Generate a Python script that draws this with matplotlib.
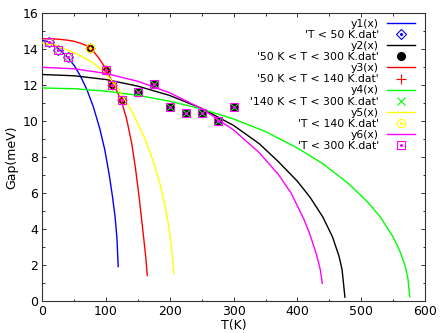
import numpy as np
import matplotlib.pyplot as plt
from matplotlib.ticker import MultipleLocator
from matplotlib.legend_handler import HandlerTuple

plt.rcParams['font.family'] = ['DejaVu Sans']

# ---- measured data points ----
T_lt50 = [10, 25, 40]
gap_lt50 = [14.4, 13.95, 13.55]

T_50_300 = [75, 100, 110, 125, 150, 175, 200, 225, 250, 275, 300]
gap_50_300 = [14.1, 12.85, 12.0, 11.2, 11.6, 12.05, 10.8, 10.45, 10.45, 10.0, 10.8]

T_50_140 = [75, 100, 110, 125]
gap_50_140 = [14.1, 12.85, 12.0, 11.2]

T_140_300 = [150, 175, 200, 225, 250, 275, 300]
gap_140_300 = [11.6, 12.05, 10.8, 10.45, 10.45, 10.0, 10.8]

T_lt140 = [10, 25, 40, 75, 100, 110, 125]
gap_lt140 = [14.4, 13.95, 13.55, 14.1, 12.85, 12.0, 11.2]

T_lt300 = [10, 25, 40, 100, 110, 125, 150, 175, 200, 225, 250, 275, 300]
gap_lt300 = [14.4, 13.95, 13.55, 12.85, 12.0, 11.2, 11.6, 12.05, 10.8, 10.45, 10.45, 10.0, 10.8]

# ---- fitted curves ----
T_y1 = [0, 10, 20, 30, 40, 50, 60, 70, 80, 90, 98, 105, 110, 114, 117, 119]
y1 = [14.5, 14.42, 14.2, 13.9, 13.55, 13.1, 12.5, 11.75, 10.8, 9.6, 8.4, 7.0, 5.8, 4.7, 3.5, 1.9]

T_y2 = [0, 50, 100, 150, 200, 250, 300, 340, 370, 400, 420, 440, 455, 465, 470, 474.4]
y2 = [12.6, 12.53, 12.32, 11.95, 11.43, 10.71, 9.76, 8.75, 7.75, 6.65, 5.75, 4.65, 3.55, 2.5, 1.73, 0.2]

T_y3 = [0, 25, 40, 50, 60, 70, 80, 90, 100, 110, 118, 125, 132, 140, 146, 152, 158, 162, 164.6]
y3 = [14.6, 14.57, 14.51, 14.45, 14.34, 14.2, 13.9, 13.45, 12.9, 12.15, 11.6, 11.0, 10.15, 8.8, 7.4, 5.7, 3.8, 2.5, 1.4]

T_y4 = [0, 50, 100, 150, 200, 250, 300, 350, 400, 440, 480, 510, 530, 550, 560, 568, 573, 576]
y4 = [11.85, 11.81, 11.67, 11.44, 11.11, 10.68, 10.12, 9.42, 8.5, 7.63, 6.52, 5.5, 4.66, 3.55, 2.81, 2.03, 1.3, 0.22]

T_y5 = [0, 20, 40, 60, 80, 100, 120, 140, 160, 175, 185, 195, 200, 204, 206.4]
y5 = [14.35, 14.25, 13.95, 13.65, 13.25, 12.65, 11.75, 10.57, 9.1, 7.66, 6.44, 4.82, 3.7, 2.43, 1.53]

T_y6 = [0, 50, 100, 150, 200, 250, 300, 340, 370, 390, 410, 420, 430, 436, 438.9]
y6 = [13.0, 12.92, 12.66, 12.22, 11.58, 10.7, 9.51, 8.25, 7.04, 6.0, 4.55, 3.65, 2.55, 1.7, 0.97]

fig = plt.figure(figsize=(4.43, 3.33), dpi=100)
ax = fig.add_axes([0.0955, 0.097, 0.8639, 0.8625])

lw = 1.0
handles, labels = [], []

def dotted(x, y, color, z):
    # gnuplot draws a small dot in the centre of open symbols
    return ax.plot(x, y, ls='none', marker='o', ms=1.2, mfc=color, mec=color, zorder=z)[0]

l, = ax.plot(T_y1, y1, color='#0000ff', lw=lw, zorder=2)
handles.append(l); labels.append('y1(x)')
m, = ax.plot(T_lt50, gap_lt50, ls='none', marker='D', ms=5, mfc='none', mec='#0000ff', mew=0.8, zorder=3)
d = dotted(T_lt50, gap_lt50, '#0000ff', 3)
handles.append((m, d)); labels.append("'T < 50 K.dat'")

l, = ax.plot(T_y2, y2, color='black', lw=lw, zorder=4)
handles.append(l); labels.append('y2(x)')
m, = ax.plot(T_50_300, gap_50_300, ls='none', marker='o', ms=5.5, mfc='black', mec='black', zorder=5)
handles.append(m); labels.append("'50 K < T < 300 K.dat'")

l, = ax.plot(T_y3, y3, color='#ff0000', lw=lw, zorder=6)
handles.append(l); labels.append('y3(x)')
m, = ax.plot(T_50_140, gap_50_140, ls='none', marker='+', ms=7, mec='#ff0000', mew=0.8, zorder=7)
handles.append(m); labels.append("'50 K < T < 140 K.dat'")

l, = ax.plot(T_y4, y4, color='#00ff00', lw=lw, zorder=8)
handles.append(l); labels.append('y4(x)')
m, = ax.plot(T_140_300, gap_140_300, ls='none', marker='x', ms=5.5, mec='#00ff00', mew=0.8, zorder=9)
handles.append(m); labels.append("'140 K < T < 300 K.dat'")

l, = ax.plot(T_y5, y5, color='#ffff00', lw=lw, zorder=10)
handles.append(l); labels.append('y5(x)')
m, = ax.plot(T_lt140, gap_lt140, ls='none', marker='o', ms=6, mfc='none', mec='#ffff00', mew=0.8, zorder=11)
d = dotted(T_lt140, gap_lt140, '#ffff00', 11)
handles.append((m, d)); labels.append("'T < 140 K.dat'")

l, = ax.plot(T_y6, y6, color='#ff00ff', lw=lw, zorder=12)
handles.append(l); labels.append('y6(x)')
m, = ax.plot(T_lt300, gap_lt300, ls='none', marker='s', ms=6, mfc='none', mec='#ff00ff', mew=0.8, zorder=13)
d = dotted(T_lt300, gap_lt300, '#ff00ff', 13)
handles.append((m, d)); labels.append("'T < 300 K.dat'")

ax.set_xlim(0, 600)
ax.set_ylim(0, 16)
ax.xaxis.set_major_locator(MultipleLocator(100))
ax.xaxis.set_minor_locator(MultipleLocator(50))
ax.yaxis.set_major_locator(MultipleLocator(2))
ax.yaxis.set_minor_locator(MultipleLocator(1))
ax.tick_params(which='both', direction='in', top=True, right=True, color='#333333', width=0.7)
ax.tick_params(which='major', length=3, labelsize=9, pad=3)
ax.tick_params(which='minor', length=1.8)
for s in ax.spines.values():
    s.set_color('#333333')
    s.set_linewidth(0.8)

ax.set_xlabel('T(K)', fontsize=9, labelpad=1)
ax.set_ylabel('Gap(meV)', fontsize=9, labelpad=3)

leg = ax.legend(handles, labels, loc='upper right', bbox_to_anchor=(0.974, 0.981),
                frameon=False, markerfirst=False, fontsize=7.8, handlelength=2.6,
                handletextpad=0.75, labelspacing=0.1, borderpad=0, borderaxespad=0,
                handler_map={tuple: HandlerTuple(ndivide=1, pad=0)})
leg.set_zorder(20)

plt.savefig('out.png', dpi=100)
